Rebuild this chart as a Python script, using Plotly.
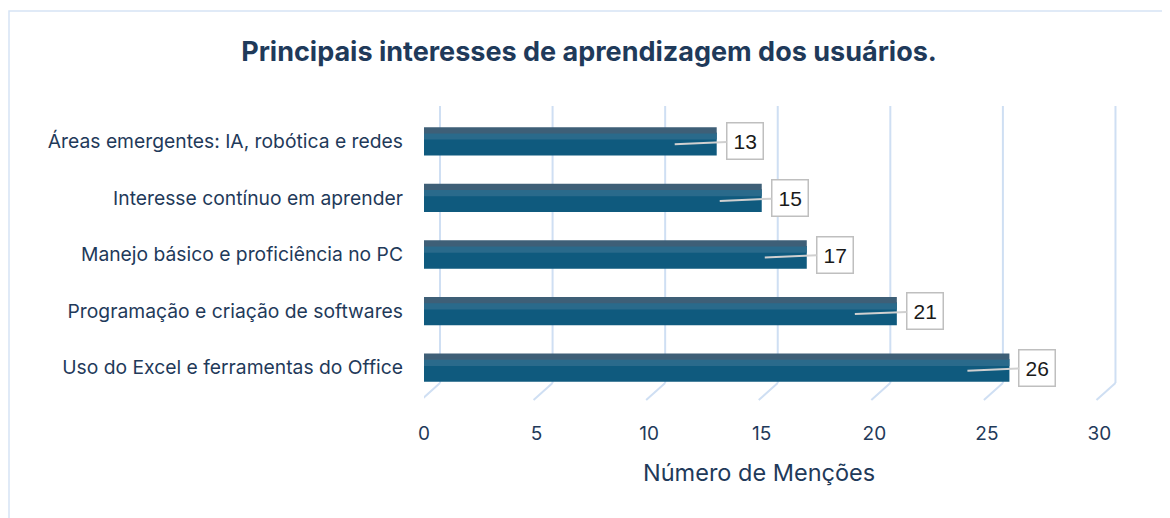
import plotly.graph_objects as go

# Data (top to bottom as shown)
categories = [
    "Áreas emergentes: IA, robótica e redes",
    "Interesse contínuo em aprender",
    "Manejo básico e proficiência no PC",
    "Programação e criação de softwares",
    "Uso do Excel e ferramentas do Office",
]
mentions = [13, 15, 17, 21, 26]
x_ticks = [0, 5, 10, 15, 20, 25, 30]

TEXT = "#1F3A5A"
GRID = "#CFDFF3"
FONT = "Inter"

fig = go.Figure()

# 3D-ish bar: front body, lighter upper band, top face (y axis reversed, layers overlap)
bar_layers = [
    dict(offset=-0.15, width=0.40, color="#0F5A7E"),
    dict(offset=-0.15, width=0.12, color="#2A6A8B"),
    dict(offset=-0.25, width=0.11, color="#3E5F77"),
]
for layer in bar_layers:
    fig.add_trace(go.Bar(
        y=categories, x=mentions, orientation="h",
        offset=layer["offset"], width=layer["width"],
        marker=dict(color=layer["color"], line=dict(width=0)),
        hoverinfo="skip", showlegend=False,
    ))

# Callout labels
for cat, v in zip(categories, mentions):
    fig.add_annotation(
        x=v, y=cat, xref="x", yref="y",
        xshift=-42, yshift=-3,
        ax=70, ay=-3, axref="pixel", ayref="pixel",
        text=str(v), showarrow=True, arrowhead=0,
        arrowcolor="#D0D0D0", arrowwidth=2, standoff=0,
        bgcolor="white", bordercolor="#BFBFBF", borderwidth=1.5, borderpad=6,
        font=dict(family="Liberation Sans", size=21, color="#1A1A1A"),
    )

# x axis title placed as annotation so it can sit slightly left of centre
fig.add_annotation(
    text="Número de Menções", xref="paper", yref="paper",
    x=0.5, y=0, xshift=-14, yshift=-76, showarrow=False,
    xanchor="center", yanchor="middle",
    font=dict(family=FONT, size=23.5, color=TEXT),
)

# Gridlines with perspective: back wall + floor diagonal
shapes = []
for t in x_ticks:
    line = dict(color=GRID, width=2)
    shapes.append(dict(type="line", xref="x", xsizemode="pixel", xanchor=t,
                       yref="paper", ysizemode="pixel", yanchor=0,
                       x0=16, x1=16, y0=13, y1=290, line=line, layer="below"))
    shapes.append(dict(type="line", xref="x", xsizemode="pixel", xanchor=t,
                       yref="paper", ysizemode="pixel", yanchor=0,
                       x0=16, x1=-3, y0=13, y1=-4, line=line, layer="below"))
# left wall edge
shapes.append(dict(type="line", xref="x", xsizemode="pixel", xanchor=0,
                   yref="paper", ysizemode="pixel", yanchor=0,
                   x0=-4, x1=-4, y0=-4, y1=276, line=dict(color=GRID, width=2),
                   layer="below"))
# chart border
shapes.append(dict(type="rect", xref="paper", xsizemode="pixel", xanchor=0,
                   yref="paper", ysizemode="pixel", yanchor=0,
                   x0=-415, x1=800, y0=-300, y1=385,
                   line=dict(color="#D6E4F5", width=1.5), layer="below"))

# page body adds an 8px offset, so the figure is 8px smaller and margins shifted
fig.update_layout(
    width=1162, height=510,
    margin=dict(l=416, r=48, t=105, b=122),
    paper_bgcolor="white", plot_bgcolor="white",
    barmode="overlay",
    shapes=shapes,
    title=dict(text="<b>Principais interesses de aprendizagem dos usuários.</b>",
               x=0.5, xref="container", xanchor="center", y=0.914, yanchor="middle",
               font=dict(family=FONT, size=27, color=TEXT)),
    xaxis=dict(range=[0, 31], tickvals=x_ticks, showgrid=False, zeroline=False,
               showline=False, ticks="", ticklabelstandoff=24,
               tickfont=dict(family=FONT, size=19, color=TEXT)),
    yaxis=dict(range=[4.5, -0.5], showgrid=False, zeroline=False, showline=False,
               ticks="", ticklabelstandoff=20,
               tickfont=dict(family=FONT, size=19.3, color=TEXT)),
)

fig.write_html("out.html")
